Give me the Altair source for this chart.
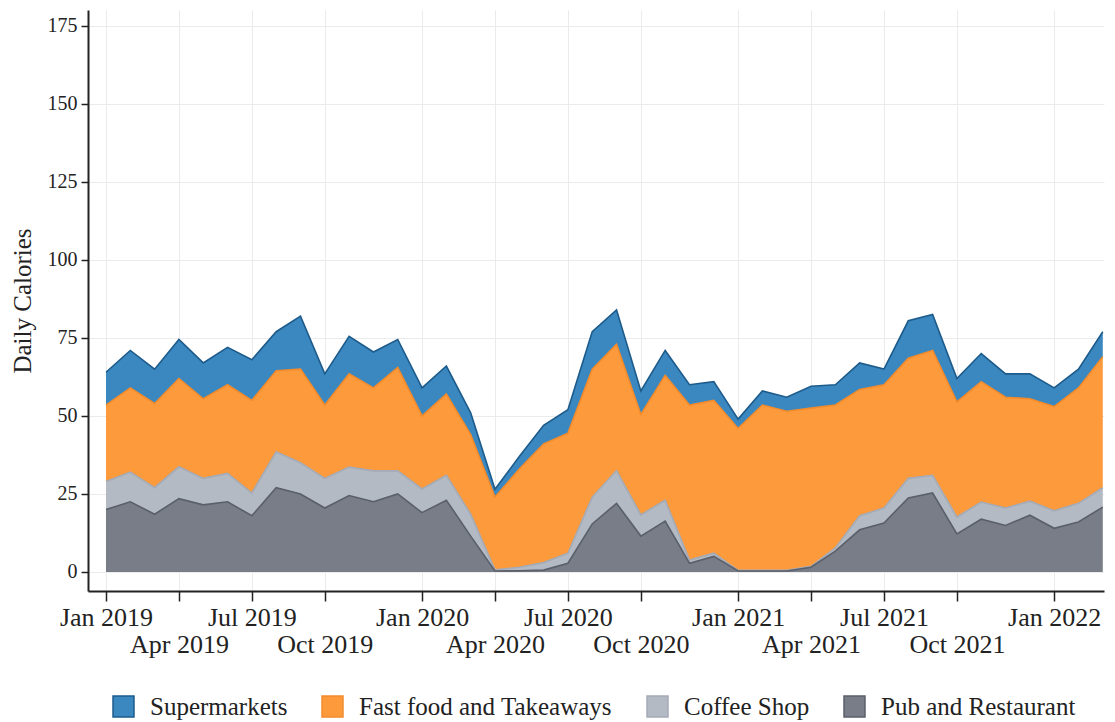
import json
import altair as alt
import pandas as pd

# 4-weekly periods, Jan 2019 .. early 2022 (13 periods per year)
periods = list(range(42))

supermarkets = [10.5, 12, 11, 12.5, 11.5, 12, 13, 12.5, 17, 10, 12, 11.5, 9,
                9, 9, 7, 2.5, 4, 6, 7.5, 12, 11, 7.5, 8, 6.5, 6,
                3, 4.5, 4.5, 7, 6.5, 8.5, 5, 12, 11.5, 7.5, 9, 7.5, 8,
                6, 6, 8]
fast_food = [24.5, 27, 27, 28.3, 25.5, 28.4, 29.7, 26, 30, 23.5, 29.9, 26.6, 33.1,
             23.4, 26, 25.5, 23.3, 31.5, 38, 38.5, 41, 40.5, 32.2, 40, 49.7, 49,
             45.5, 53, 51, 50.7, 45.8, 40.5, 39.5, 38.5, 40, 36.9, 38.6, 35.5, 32.8,
             33.4, 37, 42]
coffee_shop = [9, 9.5, 8.5, 10.2, 8.5, 9.1, 7.3, 11.5, 10, 9.5, 9.1, 9.9, 7.4,
               7.6, 8, 7, 0.4, 1.1, 2.4, 3.2, 8.6, 10.5, 6.8, 6.7, 1, 1,
               0.2, 0.2, 0.2, 0.3, 1, 4.5, 4.8, 6.3, 5.7, 5.4, 5.5, 5.6, 4.5,
               5.6, 6, 6.2]
pub_restaurant = [20, 22.5, 18.5, 23.5, 21.5, 22.5, 18, 27, 25, 20.5, 24.5, 22.5, 25,
                  19, 23, 11.5, 0.3, 0.4, 0.6, 2.8, 15.4, 22, 11.5, 16.3, 2.8, 5,
                  0.3, 0.3, 0.3, 1.5, 6.7, 13.5, 15.7, 23.7, 25.3, 12.2, 16.9, 14.9, 18.2,
                  14, 16, 20.8]

series_names = ["Supermarkets", "Fast food and Takeaways", "Coffee Shop", "Pub and Restaurant"]
series_values = [supermarkets, fast_food, coffee_shop, pub_restaurant]
stack_rank = [3, 2, 1, 0]  # bottom of stack = 0
fill_colors = ["#3b88c0", "#fd9a3c", "#b3bac4", "#787d88"]
edge_colors = ["#1d5b8b", "#f38b2b", "#a4abb6", "#5a5f69"]

tick_values = [0, 3, 6, 9, 13, 16, 19, 22, 26, 29, 32, 35, 39]
tick_labels = ["Jan 2019", "Apr 2019", "Jul 2019", "Oct 2019", "Jan 2020", "Apr 2020",
               "Jul 2020", "Oct 2020", "Jan 2021", "Apr 2021", "Jul 2021", "Oct 2021",
               "Jan 2022"]
y_ticks = [0, 25, 50, 75, 100, 125, 150, 175]

rows = []
for name, vals, rk in zip(series_names, series_values, stack_rank):
    for p, v in zip(periods, vals):
        rows.append({"period": p, "series": name, "value": v, "rank": rk})
df = pd.DataFrame(rows)

# staggered two-row tick labels
label_lookup = [[""] for _ in range(max(tick_values) + 1)]
for k, (tv, tl) in enumerate(zip(tick_values, tick_labels)):
    label_lookup[tv] = [tl] if k % 2 == 0 else ["\u00a0", tl]
label_expr = json.dumps(label_lookup) + "[datum.value]"

FONT = "Liberation Serif"

base = alt.Chart(df).transform_stack(
    stack="value", groupby=["period"], as_=["y0", "y1"],
    sort=[alt.SortField("rank", order="ascending")]
)

x_enc = alt.X("period:Q",
              scale=alt.Scale(domain=[-0.74, 41.05], nice=False, zero=False),
              axis=alt.Axis(values=tick_values, labelExpr=label_expr, title=None,
                            labelFontSize=26, labelLineHeight=27, labelPadding=3,
                            tickSize=10, labelOverlap=False, labelFlush=False,
                            labelBound=False))
y_enc = alt.Y("y1:Q",
              scale=alt.Scale(domain=[-6.1, 180.1], nice=False, zero=False),
              axis=alt.Axis(values=y_ticks, title="Daily Calories", labelFontSize=20,
                            tickSize=7, labelPadding=4, titleFontSize=25,
                            titleFontWeight="normal", titlePadding=12))

legend = alt.Legend(orient="none", legendX=23, legendY=684, direction="horizontal",
                    title=None, symbolType="square", symbolSize=440,
                    symbolStrokeWidth=1.5, labelFontSize=25, labelFont=FONT,
                    labelColor="#222", labelOffset=14, columnPadding=31, padding=0,
                    labelLimit=600)

areas = base.mark_area(strokeWidth=0).encode(
    x=x_enc, y=y_enc, y2="y0:Q",
    fill=alt.Fill("series:N", scale=alt.Scale(domain=series_names, range=fill_colors), legend=legend),
    stroke=alt.Stroke("series:N", scale=alt.Scale(domain=series_names, range=edge_colors), legend=legend),
    order=alt.Order("rank:Q"),
)

edges = base.mark_line(strokeWidth=1.6).encode(
    x=x_enc, y=y_enc,
    stroke=alt.Stroke("series:N", scale=alt.Scale(domain=series_names, range=edge_colors), legend=legend),
    detail="series:N",
)

chart = alt.layer(areas, edges).properties(
    width=1016, height=581,
    padding={"left": 2, "top": 2, "right": 0, "bottom": 0},
).configure_view(stroke=None).configure_axis(
    labelFont=FONT, titleFont=FONT, labelColor="#222", titleColor="#222",
    domainColor="#222", domainWidth=2, tickColor="#222", tickWidth=1.5,
    gridColor="#ebebeb", gridWidth=1,
)

chart.save("out.html", embed_options={"renderer": "svg", "actions": False})
